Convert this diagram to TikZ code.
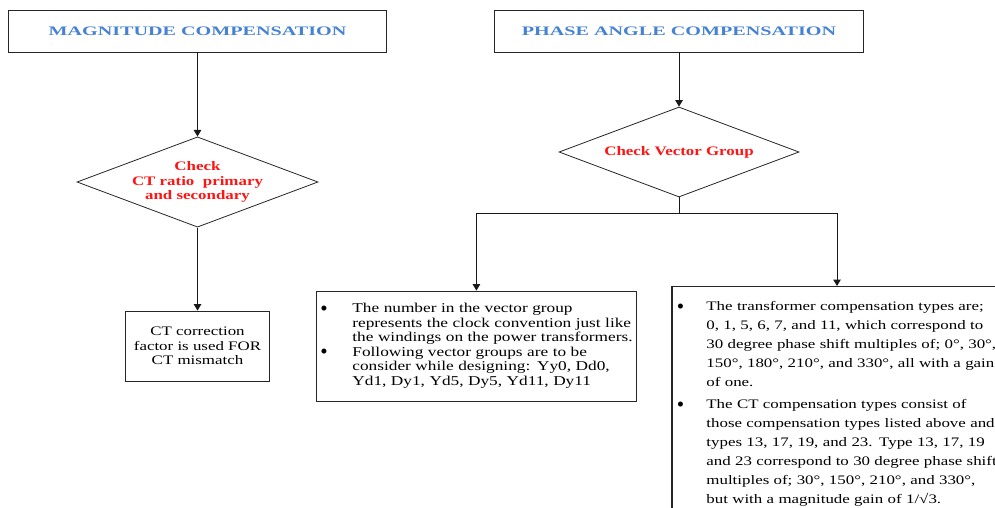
\documentclass[tikz,border=0pt]{standalone}
\usepackage{fontspec}
\setmainfont{Liberation Serif}
\newfontfamily\bodyfont{Liberation Serif}[FakeStretch=1.3]
\newfontfamily\boxfourfont{Liberation Serif}[FakeStretch=1.28]
\newfontfamily\titlefont{Liberation Serif}[FakeStretch=1.55]
\newcommand\blt{\smash{\rmfamily\fontsize{21}{21}\selectfont\raisebox{-2.4pt}{•}}}
\usetikzlibrary{arrows.meta,shapes.geometric}
\definecolor{titleblue}{RGB}{70,130,212}
\definecolor{checkred}{RGB}{255,20,20}
\begin{document}
\begin{tikzpicture}[x=1pt,y=-1pt,
  box/.style={draw=black!85,line width=0.8pt,rectangle,inner sep=0pt},
  titlebox/.style={box,minimum height=42pt,font=\titlefont\bfseries\fontsize{13}{15}\selectfont,text=titleblue},
  decision/.style={draw=black!85,line width=0.8pt,diamond,aspect=2.67,inner sep=0pt,minimum width=240pt,minimum height=90pt,align=center,text=checkred,font=\bodyfont\bfseries\fontsize{13}{14.7}\selectfont},
  plain/.style={font=\bodyfont\fontsize{13}{14.5}\selectfont},
  arr/.style={line width=1pt,draw=black!90,-{Triangle[length=6.5pt,width=7.5pt]}},
  conn/.style={line width=1pt,draw=black!90}]
\useasboundingbox (0,0) rectangle (995,507);
\fill[white] (0,0) rectangle (995,507);
\clip (0,0) rectangle (995,507);

\node[titlebox,minimum width=378pt] (b1) at (197.5,31) {MAGNITUDE COMPENSATION};
\node[titlebox,minimum width=369pt] (b2) at (679,31) {PHASE ANGLE COMPENSATION};

\node[decision] (d1) at (197.5,182) {Check\\CT ratio\ \ primary\\and secondary};
\node[decision] (d2) at (679,152) {Check Vector Group};

\node[box,plain,minimum width=144pt,minimum height=70pt,align=center] (b3) at (197.5,346)
  {CT correction\\factor is used FOR\\CT mismatch};

\node[box,anchor=west,text width=312pt,inner xsep=4pt,minimum height=110pt,align=left,
  font=\boxfourfont\fontsize{13.5}{14.5}\selectfont] (b4) at (316,346)
  {\begin{tabular}{@{}p{32pt}@{}l@{}}
   \blt & The number in the vector group\\
   & represents the clock convention just like\\
   & the windings on the power transformers.\\
   \blt & Following vector groups are to be\\
   & consider while designing: Yy0, Dd0,\\
   & Yd1, Dy1, Yd5, Dy5, Yd11, Dy11
  \end{tabular}};

\node[box,anchor=north west,text width=340pt,inner xsep=5.5pt,inner ysep=11pt,align=left,
  font=\bodyfont\fontsize{13}{18.9}\selectfont] (b5) at (671,286)
  {\begin{tabular}{@{}p{29.5pt}@{}l@{}}
   \blt & The transformer compensation types are;\\
   & 0, 1, 5, 6, 7, and 11, which correspond to\\
   & 30 degree phase shift multiples of; 0°, 30°,\\
   & 150°, 180°, 210°, and 330°, all with a gain\\
   & of one.\\[3.7pt]
   \blt & The CT compensation types consist of\\
   & those compensation types listed above and\\
   & types 13, 17, 19, and 23. Type 13, 17, 19\\
   & and 23 correspond to 30 degree phase shift\\
   & multiples of; 30°, 150°, 210°, and 330°,\\
   & but with a magnitude gain of 1/√3.
  \end{tabular}};
\draw[line width=0.8pt,draw=black!85] ([xshift=1.8pt]b5.north west) -- ([xshift=1.8pt]b5.south west);

\draw[arr] (b1.south) -- (d1.north);
\draw[arr] (d1.south) -- (b3.north);
\draw[arr] (b2.south) -- (d2.north);
\coordinate (j) at (679,213);
\path (b5.north west) ++(166,0) coordinate (b5in);
\draw[conn] (d2.south) -- (j);
\draw[arr] (j) -| (b4.north);
\draw[arr] (j) -| (b5in);
\end{tikzpicture}
\end{document}
